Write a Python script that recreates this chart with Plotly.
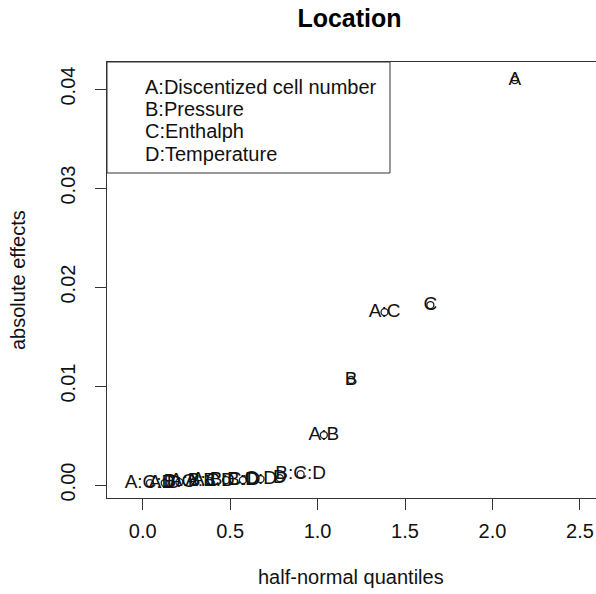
import plotly.graph_objects as go

# Half-normal plot of absolute effects for the "Location" response
effects = ["A", "C", "A:C", "B", "A:B", "B:C:D", "D", "C:D", "B:D",
           "A:B:C:D", "A:B:D", "A:B:C", "B:C", "A:D", "A:C:D"]
hn_quantiles = [2.128, 1.645, 1.383, 1.192, 1.036, 0.903, 0.784, 0.674, 0.573,
                0.477, 0.385, 0.297, 0.210, 0.126, 0.042]
abs_effects = [0.0409, 0.01818, 0.01747, 0.01061, 0.00505, 0.0011, 0.0007, 0.0006,
               0.0005, 0.0005, 0.0004, 0.0004, 0.0003, 0.0002, 0.0002]

x_ticks = [0.0, 0.5, 1.0, 1.5, 2.0, 2.5]
x_tick_text = ["0.0", "0.5", "1.0", "1.5", "2.0", "2.5"]
y_ticks = [0.00, 0.01, 0.02, 0.03, 0.04]
y_tick_text = ["0.00", "0.01", "0.02", "0.03", "0.04"]

legend_lines = ["A:Discentized cell number", "B:Pressure", "C:Enthalph", "D:Temperature"]

FONT = "Liberation Sans, Arial, sans-serif"
INK = "#111111"
AXIS = "#333333"

fig = go.Figure()

# open circles at each effect
fig.add_trace(go.Scatter(
    x=hn_quantiles, y=abs_effects, mode="markers",
    marker=dict(symbol="circle-open", size=7, color="#222222",
                line=dict(width=1.3, color="#222222")),
    hoverinfo="skip", showlegend=False,
))
# effect names centred on the points
fig.add_trace(go.Scatter(
    x=hn_quantiles, y=abs_effects, mode="text", text=effects,
    textposition="middle center",
    textfont=dict(family=FONT, size=19, color=INK),
    hoverinfo="skip", showlegend=False,
))

# plot region in pixels
L, R, T, B = 107, 596, 62, 498
pw, ph = R - L, B - T

def px_x(p):
    return (p - L) / pw

def px_y(p):
    return (B - p) / ph

# legend box with factor names
shapes = [dict(type="rect", xref="paper", yref="paper",
               x0=0, x1=px_x(390), y0=px_y(173), y1=1,
               line=dict(color=AXIS, width=1), fillcolor="white", layer="above")]

annotations = []
for line, yc in zip(legend_lines, [86.7, 108.5, 131, 153.5]):
    annotations.append(dict(text=line, xref="paper", yref="paper",
                            x=px_x(142.5), y=px_y(yc), xanchor="left", yanchor="middle",
                            showarrow=False, font=dict(family=FONT, size=20, color=INK)))

annotations.append(dict(text="half-normal quantiles", xref="paper", yref="paper",
                        x=px_x(351), y=px_y(577), xanchor="center", yanchor="middle",
                        showarrow=False, font=dict(family=FONT, size=20, color=INK)))
annotations.append(dict(text="absolute effects", xref="paper", yref="paper",
                        x=px_x(18), y=px_y(280), xanchor="center", yanchor="middle",
                        textangle=-90, showarrow=False,
                        font=dict(family=FONT, size=20, color=INK)))

fig.update_layout(
    width=596, height=594,
    margin=dict(l=L, r=0, t=T, b=594 - B, pad=0),
    paper_bgcolor="white", plot_bgcolor="white",
    title=dict(text="<b>Location</b>", x=349.5 / 596, xref="container",
               y=1 - 18 / 594, yref="container", xanchor="center", yanchor="middle",
               font=dict(family=FONT, size=25, color="black")),
    xaxis=dict(range=[-0.204, 2.592], tickvals=x_ticks, ticktext=x_tick_text,
               ticks="outside", ticklen=11, tickwidth=1, tickcolor=AXIS,
               showline=True, linecolor=AXIS, linewidth=1, mirror=True,
               showgrid=False, zeroline=False, ticklabelstandoff=4,
               tickfont=dict(family=FONT, size=20, color=INK)),
    yaxis=dict(range=[-0.00131, 0.04273], tickvals=y_ticks, ticktext=y_tick_text,
               tickangle=-90, ticks="outside", ticklen=11, tickwidth=1, tickcolor=AXIS,
               showline=True, linecolor=AXIS, linewidth=1, mirror=False,
               showgrid=False, zeroline=False, ticklabelstandoff=12,
               tickfont=dict(family=FONT, size=20, color=INK)),
    shapes=shapes,
    annotations=annotations,
)

fig.write_html("out.html")
